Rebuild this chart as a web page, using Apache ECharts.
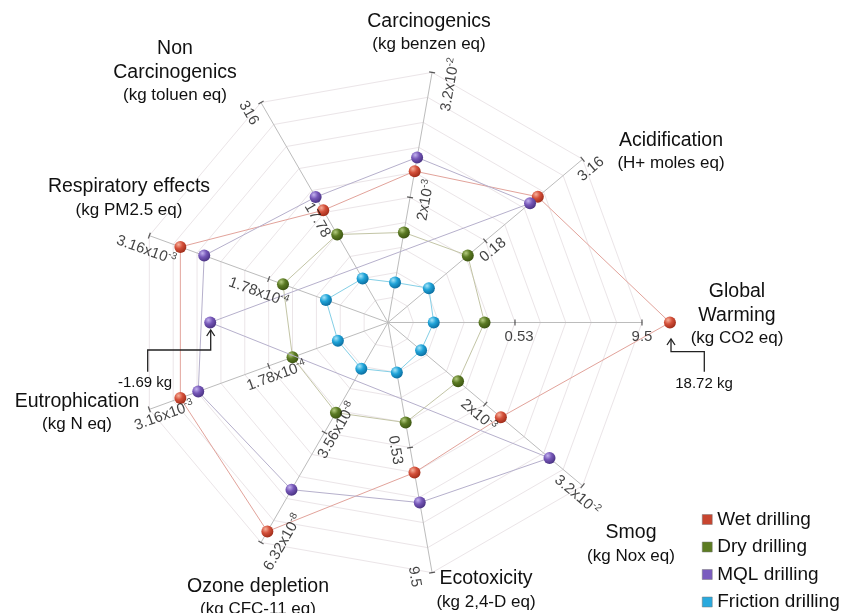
<!DOCTYPE html>
<html>
<head>
<meta charset="utf-8">
<script src="https://cdn.jsdelivr.net/npm/echarts@6/dist/echarts.min.js"></script>
<style>
  html, body { margin: 0; padding: 0; background: #fff; }
  #main { width: 862px; height: 613px; }
</style>
</head>
<body>
<div id="main"></div>
<script>
var FONT = "'Liberation Sans', Arial, sans-serif";

// axes, counter-clockwise from Global Warming (east)
var axisNames = ['Global\nWarming', 'Acidification', 'Carcinogenics', 'Non\nCarcinogenics',
    'Respiratory effects', 'Eutrophication', 'Ozone depletion', 'Ecotoxicity', 'Smog'];
var axisUnits = ['(kg CO2 eq)', '(H+ moles eq)', '(kg benzen eq)', '(kg toluen eq)',
    '(kg PM2.5 eq)', '(kg N eq)', '(kg CFC-11 eq)', '(kg 2,4-D eq)', '(kg Nox eq)'];

// log axes: position in grid steps (mid tick = 5, end tick = 10)
// negative = plotted on the opposite side of the centre
var wetDrilling = [11.1, 7.7, 6.05, 5.1, 8.7, 8.7, 9.5, 6.0, 5.8];
var dryDrilling = [3.8, 4.1, 3.6, 4.0, 4.4, 4.0, 4.1, 4.0, 3.6];
var mqlDrilling = [-7.0, 7.3, 6.6, 5.7, 7.7, 7.95, 7.6, 7.2, 8.3];
var frictionDrilling = [1.8, 2.1, 1.6, 2.0, 2.6, 2.1, 2.1, 2.0, 1.7];

var seriesNames = ['Wet drilling', 'Dry drilling', 'MQL drilling', 'Friction drilling'];

// tick labels at step 5 and step 10 of each axis
var midTicks = ['0.53', '0.18', '2x10^-3', '17.78', '1.78x10^-4', '1.78x10^-4', '3.56x10^-8', '0.53', '2x10^-3'];
var endTicks = ['9.5', '3.16', '3.2x10^-2', '316', '3.16x10^-3', '3.16x10^-3', '6.32x10^-8', '9.5', '3.2x10^-2'];

// ---- layout / style ----
var CX = 388, CY = 322.5, R = 254;
var textRot = [0, 40, 80, -60, -20, 20, 60, -80, -40];
// [midAlong, midPerp, endAlong, endPerp]
var tickOffsets = [[4, 14, 0, 14], [0, 12, 0, 13], [0, 16, -9, 20], [3, 10, 3, 16], [-5, 16, 2, 15],
    [4, 12, 12, 11], [8, 10, 11, 19], [0, 15, 1, 18], [2, 13, 2, 11]];
// [centre x, first line y]
var nameLayout = [[737, 291.7], [671, 140.7], [429, 21.7], [175, 49], [129, 187],
    [77, 401.7], [258, 586.7], [486, 579], [631, 533]];

var ballColors = [
    ['#f6b09b', '#d4503a', '#9c2a17'],
    ['#b5cc80', '#5b7a23', '#3a5210'],
    ['#c3b2ee', '#7657b8', '#47307f'],
    ['#a5e4f8', '#1fa3d8', '#0a6a9c']
];
var lineColors = ['#e2a39b', '#c3c5a6', '#b6b0cc', '#84cfe6'];
var legendColors = ['#c8452f', '#5c7c22', '#7a5cbf', '#29a9dd'];

function ball(c) {
    return new echarts.graphic.RadialGradient(0.35, 0.3, 0.75, [
        { offset: 0, color: c[0] }, { offset: 0.45, color: c[1] }, { offset: 1, color: c[2] }
    ]);
}

function richTick(t) {
    var p = t.split('^');
    return p.length > 1 ? '{n|' + p[0] + '}{s|' + p[1] + '}' : '{n|' + t + '}';
}

var allData = [wetDrilling, dryDrilling, mqlDrilling, frictionDrilling];
var radarSeries = allData.map(function (vals, i) {
    return {
        name: seriesNames[i],
        type: 'radar',
        symbol: 'circle',
        symbolSize: 12,
        z: 3 + i,
        itemStyle: { color: ball(ballColors[i]) },
        lineStyle: { color: lineColors[i], width: 1 },
        data: [{ value: vals, name: seriesNames[i] }]
    };
});

var labelData = [], tickData = [];
axisNames.forEach(function (n, i) {
    var ang = i * 40;
    var o = tickOffsets[i];
    labelData.push({ value: [5, ang], txt: richTick(midTicks[i]),
        label: { rotate: textRot[i], offset: [o[0], o[1]] } });
    labelData.push({ value: [10, ang], txt: richTick(endTicks[i]),
        label: { rotate: textRot[i], offset: [o[2], o[3]] } });
    tickData.push({ value: [5, ang], symbolRotate: ang });
    tickData.push({ value: [10, ang], symbolRotate: ang });
});

var graphics = [];
axisNames.forEach(function (n, i) {
    var lines = n.split('\n');
    var x = nameLayout[i][0], y = nameLayout[i][1];
    lines.forEach(function (ln, k) {
        graphics.push({ type: 'text', x: x, y: y + k * 23.5, z: 10,
            style: { text: ln, font: '19.5px ' + FONT, fill: '#111',
                align: 'center', verticalAlign: 'middle', textAlign: 'center', textVerticalAlign: 'middle' } });
    });
    graphics.push({ type: 'text', x: x, y: y + lines.length * 23.5 - 0.5, z: 10,
        style: { text: axisUnits[i], font: '17px ' + FONT, fill: '#111',
            align: 'center', verticalAlign: 'middle', textAlign: 'center', textVerticalAlign: 'middle' } });
});

// call-outs
var callouts = [
    { text: '18.72 kg', tx: 704, ty: 384, path: [[671, 339], [671, 351.7], [704.3, 351.7], [704.3, 371.7]] },
    { text: '-1.69 kg', tx: 145, ty: 382.7, path: [[210.7, 330], [210.7, 350], [147.7, 350], [147.7, 371.7]] }
];
callouts.forEach(function (c) {
    var tip = c.path[0];
    graphics.push({ type: 'polyline', z: 10, shape: { points: c.path },
        style: { stroke: '#222', lineWidth: 1.3, fill: null } });
    graphics.push({ type: 'polyline', z: 10,
        shape: { points: [[tip[0] - 4, tip[1] + 6], tip, [tip[0] + 4, tip[1] + 6]] },
        style: { stroke: '#222', lineWidth: 1.3, fill: null } });
    graphics.push({ type: 'text', x: c.tx, y: c.ty, z: 10,
        style: { text: c.text, font: '15px ' + FONT, fill: '#111',
            align: 'center', verticalAlign: 'middle', textAlign: 'center', textVerticalAlign: 'middle' } });
});

var chart = echarts.init(document.getElementById('main'));
var option = {
    animation: false,
    backgroundColor: '#fff',
    legend: {
        orient: 'vertical',
        left: 702,
        top: 510,
        height: 140,
        padding: 0,
        icon: 'rect',
        itemWidth: 10,
        itemHeight: 10,
        itemGap: 8.5,
        textStyle: { fontSize: 19, color: '#111', fontFamily: FONT },
        data: seriesNames.map(function (n, i) {
            return { name: n, itemStyle: { color: legendColors[i], borderColor: '#777', borderWidth: 0.5 } };
        })
    },
    radar: {
        center: [CX, CY],
        radius: R,
        startAngle: 0,
        splitNumber: 10,
        shape: 'polygon',
        indicator: axisNames.map(function (n) { return { name: n, min: 0, max: 10 }; }),
        axisName: { show: false },
        axisLine: { lineStyle: { color: '#bcbcbc', width: 1 } },
        splitLine: { lineStyle: { color: '#ebe5e8', width: 1 } },
        splitArea: { show: false },
        axisTick: { show: false },
        axisLabel: { show: false }
    },
    polar: { center: [CX, CY], radius: R },
    angleAxis: { type: 'value', min: 0, max: 360, startAngle: 0, clockwise: false, show: false },
    radiusAxis: { type: 'value', min: 0, max: 10, show: false },
    series: radarSeries.concat([
        {
            type: 'scatter',
            coordinateSystem: 'polar',
            symbol: 'rect',
            symbolSize: [1.2, 6],
            itemStyle: { color: '#333' },
            silent: true,
            z: 2,
            data: tickData
        },
        {
            type: 'scatter',
            coordinateSystem: 'polar',
            symbolSize: 1,
            itemStyle: { color: 'rgba(0,0,0,0)' },
            silent: true,
            z: 8,
            label: {
                show: true,
                position: 'inside',
                align: 'center',
                verticalAlign: 'middle',
                formatter: function (p) { return p.data.txt; },
                rich: {
                    n: { fontSize: 15, color: '#111', fontFamily: FONT },
                    s: { fontSize: 10, color: '#111', fontFamily: FONT, padding: [0, 0, 8, 0] }
                }
            },
            data: labelData
        }
    ]),
    graphic: graphics
};
chart.setOption(option);
</script>
</body>
</html>
